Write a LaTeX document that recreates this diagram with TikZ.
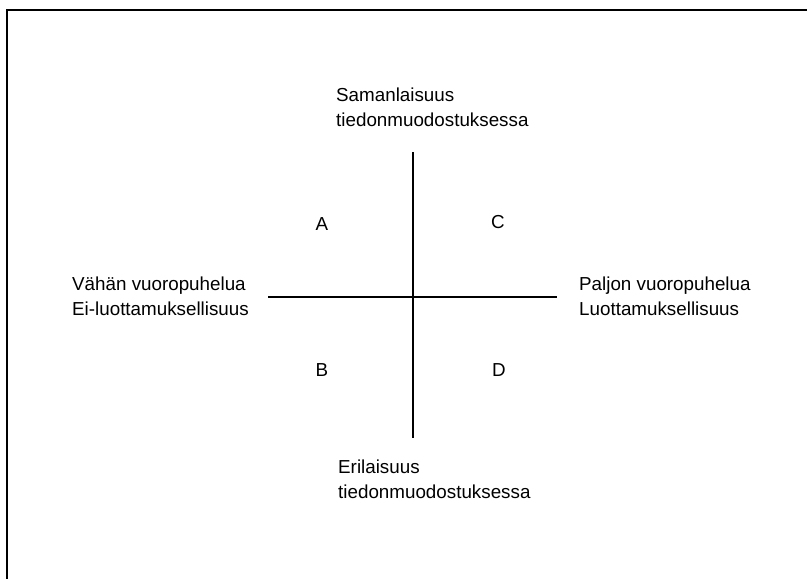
\documentclass[tikz,border=0pt]{standalone}
\usepackage{fontspec}
\setmainfont{Liberation Sans}
\usetikzlibrary{positioning}

\begin{document}
\begin{tikzpicture}[x=1pt, y=-1pt,
  axislabel/.style={align=left, inner sep=0pt, anchor=north west,
                    font=\fontsize{18.8}{25}\selectfont},
  quadrant/.style={inner sep=0pt, font=\fontsize{18.8}{25}\selectfont},
  axisline/.style={line width=1.5pt}
]
\useasboundingbox (0,0) rectangle (807,579);
% ---- frame: only its top and left edge are in view ----
\draw[line width=1.5pt] (7,579) -- (7,10) -- (807,10);
% ---- the two axes ----
\coordinate (N) at (413,152);
\coordinate (S) at (413,438);
\coordinate (W) at (268,297);
\coordinate (E) at (557,297);
\draw[axisline] (N) -- (S);
\draw[axisline] (W) -- (E);
% ---- axis ends ----
\node[axislabel] (top) at (336,88) {Samanlaisuus\\tiedonmuodostuksessa};
\node[axislabel] (bottom) at (338,460) {Erilaisuus\\tiedonmuodostuksessa};
\node[axislabel] (left) at (72,277) {Vähän vuoropuhelua\\Ei-luottamuksellisuus};
\node[axislabel] (right) at (579,277) {Paljon vuoropuhelua\\Luottamuksellisuus};
% ---- quadrants ----
\node[quadrant] (A) at (322,224) {A};
\node[quadrant] (C) at (498,222) {C};
\node[quadrant] (B) at (322,370) {B};
\node[quadrant] (D) at (499,370) {D};
\end{tikzpicture}
\end{document}
